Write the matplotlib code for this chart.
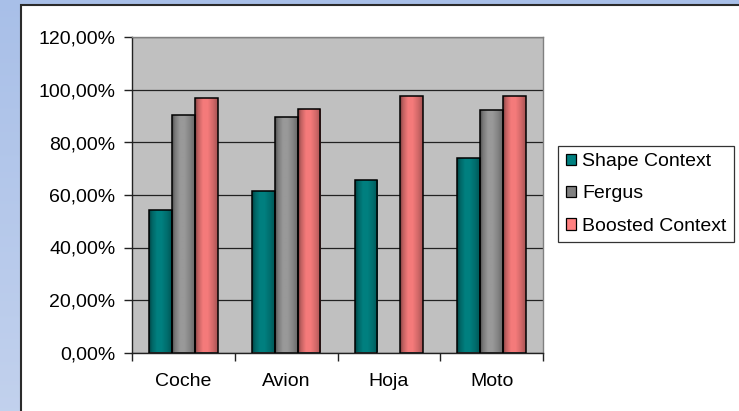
import numpy as np
import matplotlib
matplotlib.use("Agg")
import matplotlib.pyplot as plt
from matplotlib.patches import Rectangle, Patch

plt.rcParams['font.family'] = ['Liberation Sans', 'DejaVu Sans']

categories = ["Coche", "Avion", "Hoja", "Moto"]
series_names = ["Shape Context", "Fergus", "Boosted Context"]
shape_context = [54.3, 61.6, 65.7, 74.0]
fergus = [90.5, 89.8, np.nan, 92.4]
boosted_context = [96.8, 92.8, 97.8, 97.8]
yticks = [0, 20, 40, 60, 80, 100, 120]

series_values = [shape_context, fergus, boosted_context]
base_colors = [(0.0, 0.50, 0.50), (0.60, 0.60, 0.60), (0.96, 0.48, 0.48)]
legend_colors = ["#008080", "#808080", "#FF8080"]

W, H = 739, 411
FS = 14
fig = plt.figure(figsize=(W / 100, H / 100), dpi=100)

# blue backdrop with a soft vertical gradient
bg = fig.add_axes([0, 0, 1, 1], zorder=-10)
bg.axis("off")
top_c = np.array([0.66, 0.75, 0.91])
bot_c = np.array([0.76, 0.82, 0.93])
t = np.linspace(0, 1, 256)[:, None, None]
grad_bg = top_c * (1 - t) + bot_c * t
grad_bg = np.repeat(grad_bg, 2, axis=1)
bg.imshow(grad_bg, extent=[0, 1, 0, 1], aspect="auto")
bg.set_xlim(0, 1)
bg.set_ylim(0, 1)

# white chart area with dark border
chart = Rectangle((21 / W, -0.1), 1.1, 1 - 5 / H + 0.1, transform=fig.transFigure,
                  facecolor="white", edgecolor="#2b2b2b", linewidth=1.5, zorder=-5)
fig.patches.append(chart)

ax = fig.add_axes([132 / W, 1 - 352.5 / H, (543 - 132) / W, (352.5 - 37.5) / H])
ax.set_facecolor("#C0C0C0")

n = len(series_names)
bar_w = 1 / 4.5
x = np.arange(len(categories))
offsets = (np.arange(n) - (n - 1) / 2) * bar_w

# horizontal shading profile across each bar
prof_t = [0.0, 0.12, 0.35, 0.55, 0.8, 1.0]
prof_f = [0.5, 0.78, 1.0, 1.0, 0.85, 0.68]
xs = np.linspace(0, 1, 64)
shade = np.interp(xs, prof_t, prof_f)

for i, (vals, col) in enumerate(zip(series_values, base_colors)):
    col = np.array(col)
    img = np.clip(col[None, :] * shade[:, None], 0, 1)[None, :, :]
    bars = ax.bar(x + offsets[i], vals, width=bar_w, facecolor="none",
                  edgecolor="black", linewidth=1.1, zorder=4)
    for b, v in zip(bars, vals):
        if np.isnan(v):
            continue
        x0 = b.get_x()
        im = ax.imshow(img, extent=[x0, x0 + b.get_width(), 0, v],
                       aspect="auto", zorder=3, interpolation="bilinear")
        im.set_clip_path(b)

ax.set_xlim(-0.5, len(categories) - 0.5)
ax.set_ylim(0, 120)

ax.set_yticks(yticks)
ax.set_yticklabels([f"{v:.2f}".replace(".", ",") + "%" for v in yticks], fontsize=FS)
ax.yaxis.grid(True, color="#222222", linewidth=0.9)
ax.set_axisbelow(True)
ax.tick_params(axis="y", direction="out", length=6, width=1, color="#222222", pad=6)

ax.set_xticks(x)
ax.set_xticklabels(categories, fontsize=FS)
ax.set_xticks(np.arange(len(categories) + 1) - 0.5, minor=True)
ax.tick_params(axis="x", which="major", length=0, pad=15)
ax.tick_params(axis="x", which="minor", direction="out", length=6, width=1, color="#222222")

for s in ["top", "right"]:
    ax.spines[s].set_color("#808080")
    ax.spines[s].set_linewidth(1)
for s in ["left", "bottom"]:
    ax.spines[s].set_color("#222222")
    ax.spines[s].set_linewidth(1)

handles = [Patch(facecolor=c, edgecolor="black", linewidth=0.9) for c in legend_colors]
leg = ax.legend(handles, series_names, loc="center left",
                bbox_to_anchor=(558 / W, 1 - 194 / H), bbox_transform=fig.transFigure,
                fontsize=FS, frameon=True, fancybox=False, shadow=False,
                handlelength=0.55, handleheight=0.55, handletextpad=0.3,
                labelspacing=0.78, borderpad=0.4, borderaxespad=0)
leg.get_frame().set_edgecolor("black")
leg.get_frame().set_linewidth(0.9)

fig.savefig("out.png", dpi=100)
